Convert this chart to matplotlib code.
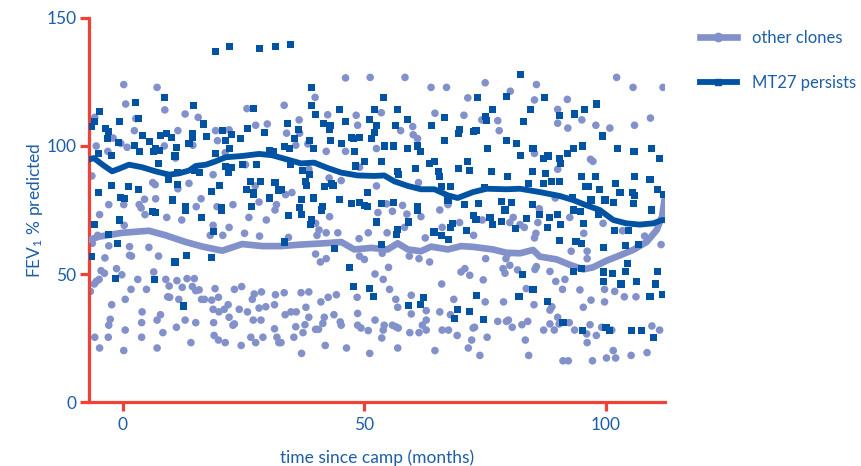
import matplotlib
matplotlib.use("Agg")
import matplotlib.pyplot as plt
from matplotlib.lines import Line2D

plt.rcParams['font.family'] = ['Lato', 'DejaVu Sans']
plt.rcParams['mathtext.default'] = 'regular'

# ---- data -------------------------------------------------------------
# MT27 persists: individual FEV1 measurements (months since camp, % predicted)
mt27_month = [
    19.2, 22.0, 28.2, 31.6, 34.7,
    8.6, 2.6, 14.7, 27.0, -4.8, 3.2, -5.8, -0.7, -6.4, -3.5, 16.7, -2.9, 25.8, 29.4, 20.6,
    4.0, 7.9, 9.1, 10.1, 14.5, 14.4, 17.4, 22.5, 24.3, -3.2, -0.8, 5.6, 2.4, 13.7, 21.3,
    11.2, 6.8, 7.5, 3.4, 6.4, 22.0, 19.2, -5.1, -2.3, 10.8, 30.3, 31.1, 7.4, 21.3, 22.5,
    24.7, 27.6, 14.9, 15.9, 21.8, 11.4, 9.4, -2.3, 1.1, 3.2, 11.4, 20.0, 18.4, 26.5, 28.5,
    31.5, 25.6, 27.0, 27.0, 32.2, -5.1, -0.4, 0.3, 10.3, 30.3, 12.9, 20.5, 26.7,
    39.0, 53.9, 39.0, 44.8, 52.1, 56.9, 39.8, 46.0, 51.0, 59.0, 66.6, 34.0, 41.6, 43.0,
    42.7, 52.5, 56.5, 63.8, 36.3, 69.5, 69.7, 72.5, 52.1, 47.4, 47.8, 48.9, 51.4, 35.6,
    43.0, 38.7, 66.6, 45.3, 54.1, 56.1, 33.4, 34.5, 39.4, 59.0, 61.0, 61.7, 47.9, 53.6,
    50.0, 71.4, 63.4, 64.5, 48.2, 34.8, 37.2, 38.7, 60.5, 65.3, 65.6, 69.5, 71.7, 56.8,
    57.0, 37.9, 38.0, 41.7, 43.5, 43.1, 67.9, 65.9, 50.7, 32.9, 36.9, 39.5, 44.9, 47.4,
    49.0, 50.0, 53.5, 56.1, 61.0, 67.3, 70.8, 36.6, 41.3, 50.6,
    82.3, 73.5, 79.5, 87.3, 76.6, 84.4, 95.5, 98.0, 90.3, 93.5, 75.1, 75.3, 82.9, 73.1,
    99.3, 79.4, 81.5, 75.5, 84.9, 93.2, 95.1, 102.4, 105.8, 109.5, 82.4, 87.1, 88.0, 90.4,
    90.6, 92.1, 111.1, 76.4, 79.7, 84.8, 87.4, 95.0, 97.8, 105.9, 109.1, 88.8, 90.4, 87.1,
    84.0, 74.8, 95.8, 96.4, 98.6, 102.0, 102.9, 105.5, 110.7, 105.9, 78.3, 80.4, 84.8,
    73.6, 96.9, 99.8, 101.5, 105.6, 112.0, 93.1,
    -5.9, -0.7, 6.1, 6.8, 12.9, 16.3, 20.5, 18.7, -2.9, -1.1, -6.4, 10.8, 13.1, 18.4,
    -1.5, 6.5, 12.5,
    34.3, 36.9, 39.1, 38.8, 41.2, 52.5, 56.9, 56.6, 59.2, 61.0, 64.4, 65.9, 67.5, 67.8,
    68.2, 71.1, 72.5, 33.4, 43.8, 53.6, 47.0, 47.8, 51.1, 51.8, 59.1, 61.6, 62.2, 69.3,
    68.6, 71.7,
    73.1, 76.0, 76.5, 78.3, 81.2, 83.5, 86.2, 88.4, 90.0, 87.8, 90.6, 93.2, 94.7, 95.3,
    98.4, 104.7, 101.8, 90.4, 93.8, 95.0, 99.4, 104.1, 106.7, 93.2, 95.0, 99.4, 101.3,
    104.0, 104.5, 110.7, 99.4, 103.1, 106.3, 110.3, 82.7, 73.2, 84.9, 82.0, 87.8, 109.1,
    111.6, 74.6, 91.1, 95.1, 100.0, 100.8, 105.2, 107.3, 109.8, 109.5, 79.1,
]
mt27_fev = [
    137.0, 138.8, 138.0, 138.8, 139.8,
    119.0, 116.9, 115.9, 114.8, 113.3, 110.7, 109.6, 109.4, 107.6, 107.0, 108.6, 105.7, 107.0, 105.2, 106.0,
    104.2, 104.2, 105.0, 103.4, 105.0, 103.4, 103.7, 104.4, 102.9, 103.1, 101.3, 101.6, 100.3, 100.8, 102.1,
    99.5, 99.2, 98.4, 97.9, 97.9, 99.2, 97.1, 97.1, 96.4, 96.1, 98.2, 97.7, 93.0, 91.9, 91.7,
    92.7, 92.7, 90.4, 89.8, 89.8, 89.6, 87.0, 84.6, 84.1, 83.1, 84.9, 84.4, 82.3, 86.2, 86.2,
    85.9, 83.1, 82.0, 81.0, 82.8, 82.0, 80.0, 79.4, 78.9, 79.7, 76.3, 75.8, 76.3,
    122.9, 119.0, 115.9, 114.1, 114.1, 114.1, 112.2, 109.6, 110.2, 110.2, 111.2, 108.9, 108.9, 108.1,
    106.5, 108.1, 108.1, 108.1, 106.5, 105.0, 106.5, 105.7, 105.2, 103.4, 102.9, 103.4, 102.9, 102.9,
    102.3, 102.3, 102.1, 101.0, 100.0, 100.0, 99.7, 99.2, 99.2, 99.0, 100.0, 97.9, 97.9, 94.0,
    93.8, 94.0, 93.0, 94.0, 92.2, 92.7, 90.6, 88.8, 91.1, 90.1, 88.0, 91.1, 90.4, 90.1,
    88.8, 86.2, 84.4, 84.1, 84.4, 85.2, 84.1, 84.1, 81.8, 83.1, 79.2, 79.7, 79.2, 77.6,
    77.9, 76.8, 77.4, 78.1, 76.3, 78.9, 77.1, 76.0, 76.3, 76.3,
    127.9, 118.8, 119.5, 119.0, 114.1, 114.1, 114.1, 116.4, 112.0, 112.5, 111.5, 109.9, 109.4, 106.0,
    103.9, 102.1, 101.0, 99.0, 99.0, 99.2, 100.0, 99.0, 97.9, 99.0, 96.4, 95.1, 96.1, 95.1,
    93.0, 97.1, 95.1, 90.1, 88.0, 90.1, 89.1, 88.0, 88.0, 88.0, 87.0, 86.2, 86.2, 85.2,
    85.2, 83.9, 84.1, 84.1, 83.1, 85.2, 82.0, 82.0, 83.1, 80.7, 78.4, 78.1, 77.1,
    77.4, 78.9, 78.9, 78.1, 77.4, 81.0, 80.0,
    69.3, 71.1, 74.5, 74.2, 75.0, 72.1, 75.0, 66.7, 65.6, 62.0, 57.0, 54.7, 57.3, 56.3,
    48.2, 47.7, 37.5,
    72.9, 73.4, 71.1, 69.3, 75.0, 70.3, 67.4, 65.4, 70.3, 75.0, 66.4, 65.1, 63.3, 68.2,
    69.8, 66.9, 72.9, 62.5, 59.9, 61.5, 52.6, 45.1, 44.3, 41.1, 37.8, 38.0, 40.9, 36.2,
    32.6, 35.2,
    71.4, 71.9, 69.3, 70.6, 67.7, 71.6, 73.2, 71.9, 73.2, 68.0, 69.3, 75.0, 74.5, 69.8,
    73.4, 66.9, 66.9, 63.0, 62.8, 62.0, 60.4, 61.2, 61.7, 51.0, 52.1, 50.8, 50.3,
    51.0, 54.2, 51.0, 47.1, 46.1, 47.1, 46.1, 49.7, 41.7, 44.0, 41.1, 39.1, 41.1,
    41.9, 32.3, 31.0, 28.1, 29.2, 28.1, 28.1, 28.1, 25.3, 75.0, 75.0,
]

# Other clones: individual FEV1 measurements
other_month = [
    0.2, 7.1, 0.6, 8.7, 12.9, 15.6, -5.8, 2.7, 25.7, 27.5, 29.9, 2.4, 11.4, 19.2, 22.0,
    -2.0, 19.6, 14.5, -5.5, -0.4, 0.9, 8.6, -3.1, 10.9, 21.2, 25.4, -6.4, 18.7, 6.2, 6.7,
    13.7, 11.4, 4.5, 6.8, -2.9, 3.4, 0.2, 3.8, 16.2, 15.2, 19.5, 22.8, 27.4, 28.2, 31.8,
    46.1, 51.2, 58.4, 63.8, 67.0, 71.4, 39.8, 33.4, 53.5, 64.6, 70.6, 36.5, 42.4, 48.3,
    48.6, 60.0, 57.5, 33.9, 36.6, 60.1, 61.0, 38.3, 35.8, 52.5, 42.1, 46.1, 38.5, 49.0,
    61.2, 42.7, 45.2, 52.5, 33.7, 35.0, 57.9, 54.6, 67.3,
    75.0, 85.6, 102.2, 105.6, 111.8, 80.2, 85.2, 92.0, 90.0, 109.2, 74.3, 77.6, 90.0,
    92.1, 95.0, 97.9, 100.8, 105.9, 77.9, 85.2, 96.8, 97.3, 90.0, 86.2, 89.5,
    -4.8, 4.6, 9.1, 12.2, 0.3, 18.7, 22.0, 29.7, 26.1, 18.1, 20.7, 25.2, 28.3, -5.2, 31.5,
    -6.3, -2.9, 1.4, 5.4, 1.4, 1.8, 7.4, -3.7, -1.3, -4.5, -3.8, -0.2, 6.4, -4.9, -5.5,
    -5.9, 3.1, 8.9, 11.2, 13.3, 14.8, 9.6, 14.4, -6.7, 1.7, 4.9, 12.3, 15.1, 15.8, 19.1,
    23.1, 24.6, 27.2, 28.7, 31.6, 9.3, 9.7, 11.6, 16.3, 16.9, 18.4, 19.8, 26.8, 0.5, -2.3,
    21.8, 18.7, 19.9, 21.0, 24.1, 25.8, 28.2, 29.6, 31.4, 4.0, 7.8, 7.1, -2.6, -2.9, 3.9,
    12.9, 15.1, 18.8, 22.0, 23.1, 22.8, 27.0, 28.6, 31.4, 0.5, 8.3, 11.1, -5.8, -3.0, 3.9,
    18.9, 19.8, 21.2, 26.5, 27.5, 29.0, 31.9, 32.3, -4.8, 0.2, 7.1, 14.1, 24.5,
    42.8, 52.8, 55.8, 58.8, 61.7, 65.6, 69.7, 39.9, 40.6, 40.2, 42.1, 44.5, 48.9, 50.8,
    54.7, 58.3, 62.6, 66.1, 34.3, 39.9, 40.9, 42.1, 49.0, 50.0, 53.7, 59.3, 61.3, 63.5,
    55.0, 52.2, 53.9, 70.0, 70.8, 71.8, 66.0, 33.4, 36.9, 38.5, 42.5, 44.2, 41.0, 48.5,
    55.2, 56.5, 59.7, 68.5, 56.9, 62.8, 65.6, 67.8, 33.6, 34.8, 35.9, 37.9, 38.5, 41.7,
    43.7, 48.6, 52.2, 59.7, 62.8, 35.8, 37.7, 39.9, 40.5, 41.4, 45.0, 45.2, 48.6, 49.3,
    50.8, 53.9, 54.1, 55.8, 56.5, 57.0, 59.4, 61.3, 62.0, 62.8, 66.1, 67.4, 69.2, 72.5,
    32.75, 35.4, 37.3, 53.6, 72.2, 71.5, 41.9, 46.3, 56.9, 37.0, 51.1, 64.6,
    74.4, 80.8, 82.2, 85.9, 80.1, 83.1, 85.5, 92.5, 95.4, 99.4, 103.4, 108.0, 111.4, 72.6,
    85.2, 92.8, 96.1, 96.1, 75.1, 79.7, 79.3, 80.1, 78.7, 79.1, 81.7, 85.6, 85.3, 88.4,
    89.6, 91.5, 74.6, 83.5, 91.0, 94.6, 99.7, 101.8, 103.8, 106.2, 96.9, 99.7, 75.0, 78.8,
    85.1, 88.8, 88.4, 95.3, 90.0, 88.4, 90.3, 92.4, 77.6, 79.4, 79.8, 80.6, 82.6, 83.8,
    87.1, 89.3, 93.5, 96.7, 99.1, 101.2, 109.5, 111.1, 72.8, 96.0, 98.0, 75.4, 83.3, 96.1,
    73.9, 84.0, 91.1, 92.2, 97.2, 100.1, 102.0, 101.5, 105.2, 108.5,
]
other_fev = [
    124.0, 122.9, 116.4, 114.1, 112.5, 111.2, 111.2, 110.7, 114.6, 108.1, 108.6, 106.0, 106.0, 106.0, 106.3,
    103.1, 102.1, 100.3, 100.0, 101.0, 99.5, 100.0, 97.9, 95.3, 97.4, 92.7, 88.3, 88.8, 85.7, 84.9,
    85.4, 83.3, 79.2, 79.4, 77.1, 77.1, 77.1, 75.8, 79.4, 76.3, 76.3, 77.1, 84.4, 78.1, 77.1,
    126.6, 126.8, 126.8, 122.9, 122.9, 118.8, 119.0, 115.9, 113.0, 112.8, 112.0, 110.2, 112.2, 112.0,
    108.1, 107.6, 106.0, 105.0, 105.0, 104.4, 102.9, 100.8, 100.3, 99.0, 97.9, 97.9, 90.9, 91.7,
    85.7, 87.5, 86.5, 84.4, 81.0, 81.8, 76.8, 77.4, 77.1,
    124.7, 124.0, 126.8, 122.9, 122.9, 121.4, 118.0, 118.2, 114.3, 110.9, 110.2, 109.9, 108.9,
    107.0, 110.2, 108.1, 107.0, 108.1, 106.0, 97.1, 94.8, 94.0, 90.9, 75.5, 79.7,
    73.2, 73.2, 72.1, 71.1, 69.0, 69.0, 68.2, 71.1, 72.1, 65.1, 65.1, 65.9, 64.8, 65.1, 75.0,
    62.0, 61.0, 60.7, 60.4, 57.3, 57.0, 57.0, 56.3, 52.1, 51.3, 50.3, 49.7, 50.8, 47.9, 47.1,
    46.1, 47.9, 47.9, 47.4, 48.2, 48.2, 45.3, 45.1, 43.2, 44.0, 44.0, 44.8, 43.5, 43.8, 44.3,
    44.0, 45.1, 42.2, 43.0, 41.9, 41.1, 40.9, 40.1, 40.1, 40.1, 39.8, 40.9, 40.1, 40.1, 38.0,
    38.0, 36.2, 35.2, 36.2, 36.2, 35.2, 36.7, 37.2, 38.0, 35.2, 34.1, 32.0, 32.3, 30.0, 31.0,
    32.0, 31.0, 31.0, 33.1, 30.5, 30.0, 32.0, 32.0, 28.6, 28.1, 27.1, 29.2, 25.3, 25.3, 25.3,
    26.0, 24.2, 23.2, 25.3, 23.2, 25.3, 25.3, 23.2, 21.1, 20.1, 21.1, 23.2, 22.1,
    72.4, 74.0, 74.5, 73.4, 72.4, 75.0, 70.1, 69.8, 67.2, 65.1, 66.1, 66.1, 63.8, 66.1,
    66.1, 68.2, 64.1, 68.2, 64.3, 57.8, 54.7, 56.0, 57.0, 55.7, 58.1, 57.0, 56.0, 54.7,
    52.6, 50.0, 47.9, 50.8, 52.1, 49.5, 46.1, 42.7, 42.7, 43.0, 40.9, 41.9, 39.1, 40.9,
    44.0, 40.1, 41.7, 40.1, 37.0, 35.7, 35.2, 34.1, 34.1, 35.2, 35.2, 37.0, 33.1, 33.1,
    34.1, 34.6, 32.0, 34.4, 32.0, 29.4, 30.2, 28.4, 28.4, 30.7, 31.3, 30.0, 30.0, 28.9,
    27.9, 28.1, 30.0, 30.0, 29.4, 28.9, 27.1, 27.1, 30.0, 28.1, 28.1, 28.1, 26.0, 28.9,
    23.2, 25.3, 27.1, 25.0, 24.2, 21.1, 22.1, 21.1, 21.1, 19.0, 19.0, 20.1,
    71.1, 72.1, 69.3, 70.1, 70.1, 68.2, 65.9, 72.1, 65.9, 69.8, 66.9, 64.8, 61.5, 65.1,
    64.1, 58.9, 58.9, 56.0, 56.0, 57.8, 56.0, 53.4, 52.1, 50.3, 51.6, 52.9, 51.8, 51.0,
    47.1, 47.9, 47.7, 44.3, 44.0, 43.8, 44.0, 43.2, 41.1, 41.1, 39.8, 39.1, 39.1, 39.1,
    38.0, 37.2, 35.9, 37.0, 33.1, 30.5, 30.5, 31.0, 31.5, 31.5, 32.0, 29.2, 30.2, 31.5,
    28.1, 28.1, 28.1, 30.2, 29.2, 28.1, 29.7, 28.1, 29.2, 26.6, 26.0, 25.3, 24.2, 23.2,
    18.2, 18.2, 16.1, 16.1, 16.1, 17.2, 17.2, 20.1, 18.2, 19.3,
]

# Running means of each group
other_trend_month = [-7.0, -4.9, -0.1, 5.4, 8.9, 13.0, 16.5, 20.6, 24.7, 28.9, 32.75,
                     36.9, 41.7, 45.2, 47.9, 51.4, 54.8, 56.9, 59.0, 61.7, 63.8, 67.3,
                     70.0, 72.5, 76.6, 79.4, 82.2, 84.9, 86.3, 89.8, 92.5, 95.3, 97.3,
                     100.1, 102.9, 105.6, 108.4, 110.5, 111.6, 112.2]
other_trend_fev = [63.3, 64.6, 66.1, 66.9, 65.1, 62.5, 60.7, 59.1, 61.7, 60.9, 60.9,
                   61.5, 62.0, 62.5, 59.6, 60.2, 59.6, 62.0, 59.6, 58.9, 60.7, 59.6,
                   60.9, 60.6, 59.6, 58.3, 58.1, 59.4, 56.8, 55.7, 53.6, 51.8, 52.6,
                   55.2, 57.3, 59.4, 62.5, 67.2, 72.4, 80.2]

mt27_trend_month = [-7.0, -6.0, -4.2, -2.2, -0.8, 1.3, 4.0, 6.8, 9.6, 11.6, 13.7, 15.1,
                    17.2, 19.2, 21.3, 24.7, 28.2, 30.9, 32.75, 36.9, 39.6, 42.4, 45.2,
                    48.6, 52.1, 54.1, 56.2, 59.0, 61.7, 64.5, 67.3, 69.3, 72.5, 75.3,
                    79.4, 82.2, 86.3, 90.4, 93.2, 96.0, 98.7, 101.5, 104.2, 107.0,
                    109.8, 111.6, 112.2]
mt27_trend_fev = [94.7, 95.3, 92.7, 90.1, 91.1, 92.7, 91.7, 90.1, 88.8, 89.3, 90.4, 92.2,
                  92.7, 94.0, 95.6, 96.1, 96.9, 96.4, 95.4, 93.2, 93.5, 91.4, 89.6,
                  88.5, 88.3, 88.5, 86.2, 84.4, 83.1, 83.1, 80.7, 79.7, 82.0, 83.3,
                  83.1, 83.3, 82.0, 80.5, 78.9, 76.8, 75.0, 71.1, 69.8, 69.3,
                  69.8, 71.1, 71.0]

x_ticks = [0, 50, 100]
y_ticks = [0, 50, 100, 150]

# ---- style ------------------------------------------------------------
light = '#8391cb'
dark = '#0052a3'
axis_red = '#ee4236'
text_blue = '#1d5ea8'

fig = plt.figure(figsize=(8.62, 4.66), dpi=100)
ax = fig.add_axes([0.1032, 0.1373, 0.6682, 0.8241])

ax.scatter(other_month, other_fev, s=30, marker='o', color=light,
           edgecolors='none', zorder=2)
ax.plot(other_trend_month, other_trend_fev, color=light, lw=4.8,
        solid_capstyle='round', solid_joinstyle='round', zorder=3)
ax.scatter(mt27_month, mt27_fev, s=26, marker='s', color=dark,
           edgecolors='none', zorder=4)
ax.plot(mt27_trend_month, mt27_trend_fev, color=dark, lw=4.2,
        solid_capstyle='round', solid_joinstyle='round', zorder=5)

ax.set_xlim(-7, 112.2)
ax.set_ylim(0, 150)
ax.set_xticks(x_ticks)
ax.set_yticks(y_ticks)

for side in ('top', 'right'):
    ax.spines[side].set_visible(False)
for side in ('left', 'bottom'):
    ax.spines[side].set_color(axis_red)
    ax.spines[side].set_linewidth(2.3)
ax.tick_params(axis='both', colors=axis_red, length=6.5, width=2.3,
               labelcolor=text_blue, labelsize=12.5, pad=2.5)
ax.tick_params(axis='x', pad=4)

ax.set_xlabel('time since camp (months)', color=text_blue, fontsize=12.5,
              labelpad=12)
ax.set_ylabel('FEV$_1$ % predicted', color=text_blue, fontsize=12.5,
              labelpad=1)

handles = [
    Line2D([], [], color=light, lw=4.8, marker='o', markersize=6),
    Line2D([], [], color=dark, lw=4.2, marker='s', markersize=5),
]
leg = ax.legend(handles, ['other clones', 'MT27 persists'],
                loc='upper left', bbox_to_anchor=(0.812, 0.935),
                bbox_transform=fig.transFigure, frameon=False,
                fontsize=12, handlelength=2.2, handletextpad=0.9,
                labelspacing=1.7, numpoints=1, borderaxespad=0, borderpad=0)
for t in leg.get_texts():
    t.set_color(text_blue)

fig.savefig('out.png', dpi=100)
